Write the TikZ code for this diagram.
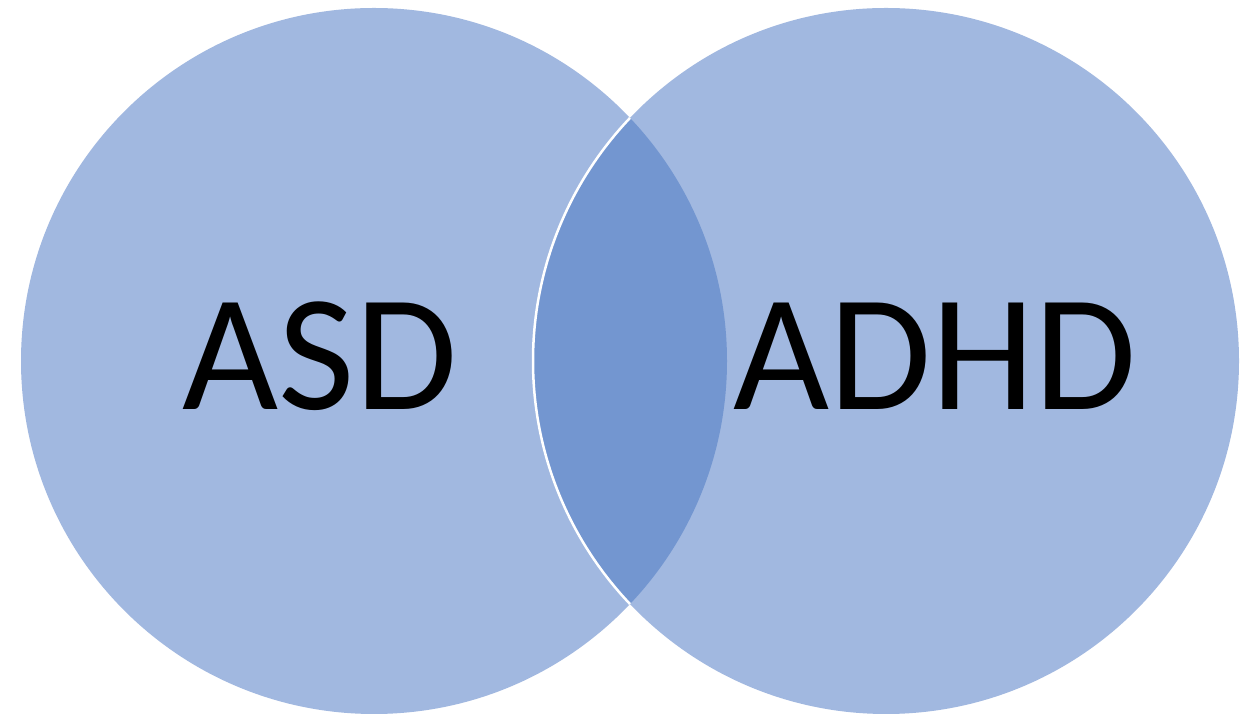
\documentclass[tikz,border=0pt]{standalone}
\usepackage{fontspec}
\setmainfont{Carlito}
\definecolor{vennlight}{HTML}{A1B8E0}
\definecolor{venndark}{HTML}{7396D0}
\begin{document}
\begin{tikzpicture}[x=1pt,y=1pt,
  venn/.style={circle, fill=vennlight, draw=none, minimum size=706pt, inner sep=0pt},
  lbl/.style={anchor=base, font=\fontsize{166}{166}\selectfont, text=black, inner sep=0pt}]
\useasboundingbox (0,0) rectangle (1242,714);
\fill[white] (0,0) rectangle (1242,714);
\node[venn] (asd) at (374,353) {};
\node[venn] (adhd) at (886,353) {};
\begin{scope}
  \clip (asd.center) circle (353pt);
  \filldraw[fill=venndark, draw=white, line width=2.5pt] (adhd.center) circle (353pt);
\end{scope}
\node[lbl] (asdlabel) at (320,304) {ASD};
\node[lbl] (adhdlabel) at (935,304) {ADHD};
\end{tikzpicture}
\end{document}
